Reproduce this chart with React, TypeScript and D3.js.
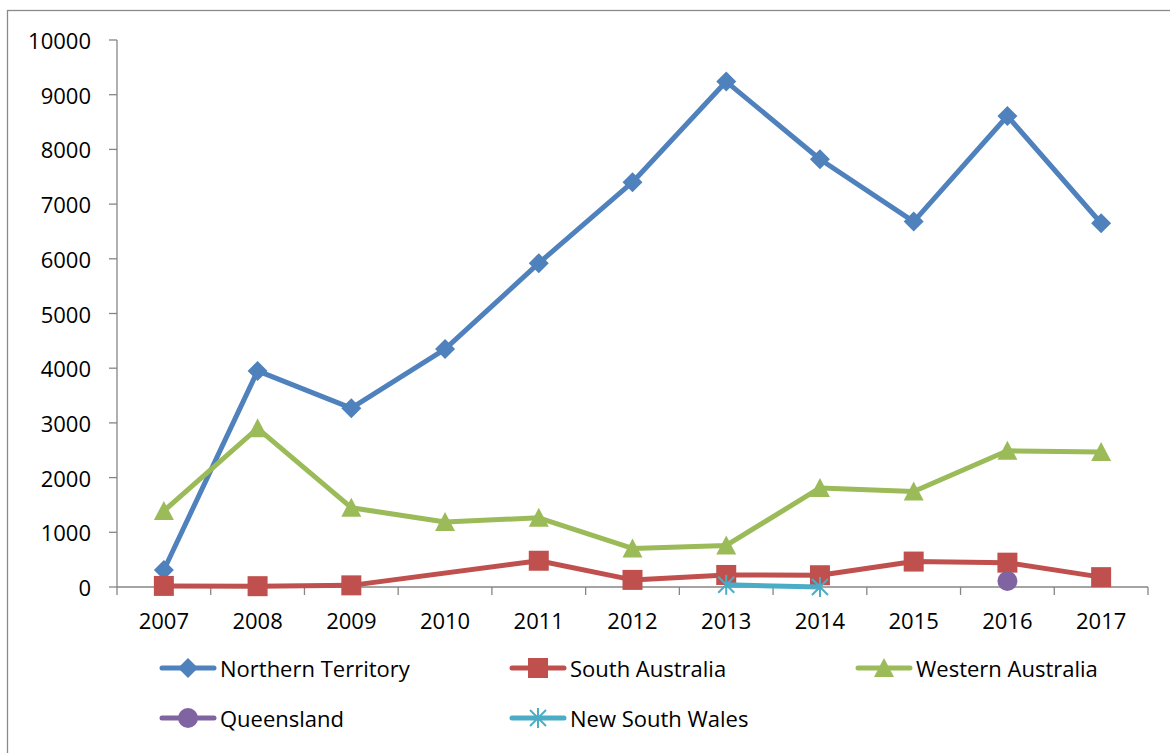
import React from "react";
import * as d3 from "d3";

const years = ["2007", "2008", "2009", "2010", "2011", "2012", "2013", "2014", "2015", "2016", "2017"];
const yTicks = [0, 1000, 2000, 3000, 4000, 5000, 6000, 7000, 8000, 9000, 10000];

const northernTerritory = [310, 3950, 3270, 4350, 5920, 7400, 9240, 7820, 6680, 8610, 6650];
const southAustralia = [20, 15, 30, null, 480, 130, 220, 215, 465, 445, 180];
const westernAustralia = [1390, 2900, 1450, 1190, 1265, 705, 760, 1810, 1745, 2490, 2470];
const queensland = [null, null, null, null, null, null, null, null, null, 110, null];
const newSouthWales = [null, null, null, null, null, null, 40, 0, null, null, null];

const seriesNames = ["Northern Territory", "South Australia", "Western Australia", "Queensland", "New South Wales"];
const seriesValues = [northernTerritory, southAustralia, westernAustralia, queensland, newSouthWales];
const colors = ["#4F81BD", "#C0504D", "#9BBB59", "#8064A2", "#4BACC6"];
const shapes = ["diamond", "square", "triangle", "circle", "star"];

const W = 1170;
const H = 753;
const FONT = "'Open Sans', sans-serif";

const Marker = ({ shape, x, y, color }) => {
  // marker glyphs, roughly the size of the office defaults
  if (shape === "diamond")
    return <path d={`M${x},${y - 10}L${x + 10},${y}L${x},${y + 10}L${x - 10},${y}Z`} fill={color} />;
  if (shape === "square") return <rect x={x - 10} y={y - 10} width={20} height={20} fill={color} />;
  if (shape === "triangle")
    return <path d={`M${x},${y - 10}L${x + 10},${y + 9}L${x - 10},${y + 9}Z`} fill={color} />;
  if (shape === "circle") return <circle cx={x} cy={y} r={10} fill={color} />;
  return (
    <g stroke={color} strokeWidth={2}>
      <line x1={x} y1={y - 10} x2={x} y2={y + 10} />
      <line x1={x - 8} y1={y - 8} x2={x + 8} y2={y + 8} />
      <line x1={x - 8} y1={y + 8} x2={x + 8} y2={y - 8} />
    </g>
  );
};

const App = () => {
  const left = 117;
  const right = 1148;
  const top = 40;
  const bottom = 587;

  const x = d3.scaleBand().domain(years).range([left, right]).padding(0);
  const y = d3.scaleLinear().domain([0, 10000]).range([bottom, top]);
  const cx = (yr) => x(yr) + x.bandwidth() / 2;

  const line = d3
    .line()
    .x((d) => cx(d.year))
    .y((d) => y(d.value));

  const series = seriesNames.map((name, i) => ({
    name,
    color: colors[i],
    shape: shapes[i],
    points: seriesValues[i]
      .map((v, j) => ({ year: years[j], value: v }))
      .filter((d) => d.value !== null),
  }));

  // legend slots: two rows, three columns
  const legendCols = [188, 538, 884];
  const legendRows = [668, 718];

  return (
    <svg width={W} height={H} style={{ position: "absolute", left: 0, top: 0, background: "#fff" }}>
      <rect x={7.5} y={10.5} width={W + 20} height={H + 20} fill="#fff" stroke="#8a8a8a" strokeWidth={1.3} />

      {/* y axis */}
      <line x1={left} x2={left} y1={top} y2={bottom} stroke="#868686" strokeWidth={1.3} />
      {yTicks.map((t) => (
        <g key={t}>
          <line x1={left - 8} x2={left} y1={y(t)} y2={y(t)} stroke="#868686" strokeWidth={1.3} />
          <text
            x={91}
            y={y(t)}
            textAnchor="end"
            dominantBaseline="central"
            fontFamily={FONT}
            fontSize={22}
            fill="#000"
          >
            {t}
          </text>
        </g>
      ))}

      {/* x axis */}
      <line x1={left} x2={right} y1={bottom} y2={bottom} stroke="#868686" strokeWidth={1.3} />
      {years.concat(["end"]).map((yr, i) => {
        const tx = i < years.length ? x(yr) : right;
        return <line key={yr} x1={tx} x2={tx} y1={bottom} y2={bottom + 8} stroke="#868686" strokeWidth={1.3} />;
      })}
      {years.map((yr) => (
        <text
          key={yr}
          x={cx(yr)}
          y={620}
          textAnchor="middle"
          dominantBaseline="central"
          fontFamily={FONT}
          fontSize={22}
          fill="#000"
        >
          {yr}
        </text>
      ))}

      {/* series */}
      {series.map((s) => (
        <g key={s.name}>
          <path d={line(s.points)} fill="none" stroke={s.color} strokeWidth={5} strokeLinejoin="round" />
          {s.points.map((p) => (
            <Marker key={p.year} shape={s.shape} x={cx(p.year)} y={y(p.value)} color={s.color} />
          ))}
        </g>
      ))}

      {/* legend */}
      {series.map((s, i) => {
        const lx = legendCols[i % 3];
        const ly = legendRows[Math.floor(i / 3)];
        return (
          <g key={s.name}>
            <line x1={lx - 26} x2={lx + 26} y1={ly} y2={ly} stroke={s.color} strokeWidth={5} strokeLinecap="round" />
            <Marker shape={s.shape} x={lx} y={ly} color={s.color} />
            <text x={lx + 32} y={ly} dominantBaseline="central" fontFamily={FONT} fontSize={22} fill="#000">
              {s.name}
            </text>
          </g>
        );
      })}
    </svg>
  );
};

export default App;
